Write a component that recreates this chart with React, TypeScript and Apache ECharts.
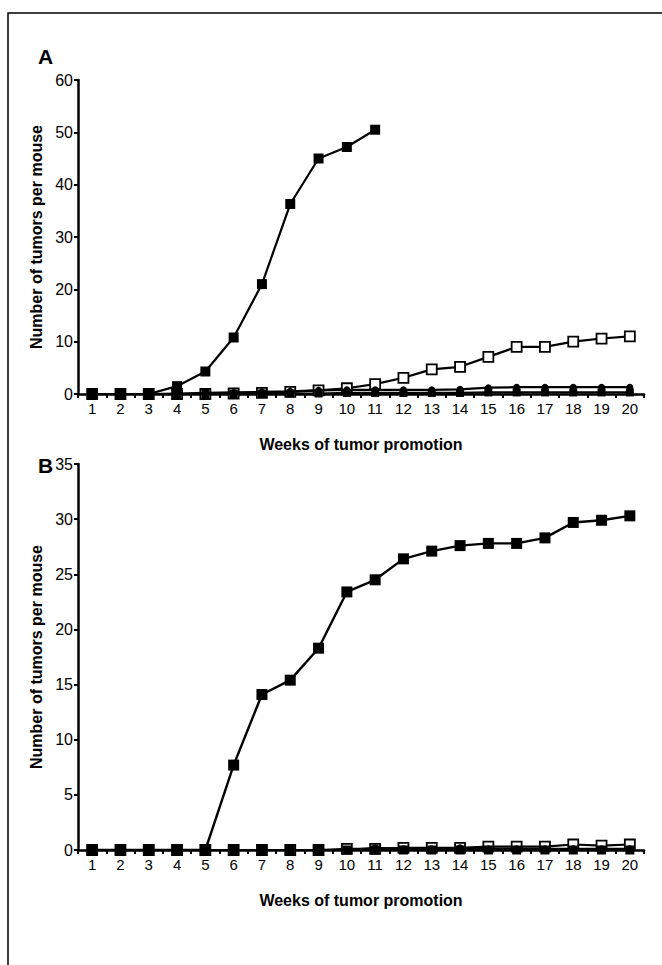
import React, { useEffect, useRef } from "react";
import * as echarts from "echarts";

const weeks = ["1","2","3","4","5","6","7","8","9","10","11","12","13","14","15","16","17","18","19","20"];
const yTicksA = [0, 10, 20, 30, 40, 50, 60];
const yTicksB = [0, 5, 10, 15, 20, 25, 30, 35];

// Panel A
const aFilledSquare = [0, 0, 0, 1.5, 4.3, 10.8, 21, 36.3, 45, 47.2, 50.5];
const aOpenSquare = [0, 0, 0, 0, 0, 0.1, 0.2, 0.4, 0.7, 1.1, 1.9, 3.1, 4.7, 5.2, 7.1, 9, 9, 10, 10.6, 11];
const aCircle = [0, 0, 0, 0.1, 0.2, 0.3, 0.4, 0.5, 0.7, 0.8, 0.8, 0.8, 0.8, 0.9, 1.2, 1.3, 1.3, 1.3, 1.3, 1.3];
const aSmallSquare = [0, 0, 0, 0, 0, 0, 0.1, 0.1, 0.1, 0.2, 0.2, 0.2, 0.2, 0.2, 0.3, 0.3, 0.3, 0.3, 0.3, 0.3];

// Panel B
const bFilledSquare = [0, 0, 0, 0, 0, 7.7, 14.1, 15.4, 18.3, 23.4, 24.5, 26.4, 27.1, 27.6, 27.8, 27.8, 28.3, 29.7, 29.9, 30.3];
const bOpenSquare = [0, 0, 0, 0, 0, 0, 0, 0, 0, 0.1, 0.1, 0.2, 0.2, 0.2, 0.3, 0.3, 0.3, 0.5, 0.4, 0.5];
const bCircle = [0, 0, 0, 0, 0, 0, 0, 0, 0, 0, 0.2, 0.1, 0.1, 0.2, 0.1, 0.1, 0.1, 0.1, 0.1, 0.1];
const bSmallSquare = [0, 0, 0, 0, 0, 0, 0, 0, 0, 0, 0, 0, 0, 0, 0, 0, 0, 0, 0, 0];

const FONT = "Liberation Sans, Arial, Helvetica, sans-serif";

export default function App() {
  const ref = useRef<HTMLDivElement>(null);
  useEffect(() => {
    document.body.style.margin = "0";
    const chart = echarts.init(ref.current!, undefined, { renderer: "svg" });

    const xAxisBase = (gridIndex: number) => ({
      type: "category",
      gridIndex,
      data: weeks,
      boundaryGap: true,
      name: "Weeks of tumor promotion",
      nameLocation: "middle",
      nameGap: 42,
      nameTextStyle: { fontFamily: FONT, fontWeight: "bold", fontSize: 16, color: "#000" },
      axisLine: { lineStyle: { color: "#000", width: 2.5 } },
      axisTick: { show: true, inside: false, length: 4, lineStyle: { color: "#000", width: 2 } },
      axisLabel: { fontFamily: FONT, fontSize: 15, color: "#000", margin: 7, interval: 0 },
      splitLine: { show: false },
    });
    const yAxisBase = (gridIndex: number, ticks: number[]) => ({
      type: "value",
      gridIndex,
      min: ticks[0],
      max: ticks[ticks.length - 1],
      interval: ticks[1] - ticks[0],
      name: "Number of tumors per mouse",
      nameLocation: "middle",
      nameGap: 28,
      nameTextStyle: { fontFamily: FONT, fontWeight: "bold", fontSize: 16, color: "#000" },
      axisLine: { show: true, lineStyle: { color: "#000", width: 2.5 } },
      axisTick: { show: true, inside: false, length: 4, lineStyle: { color: "#000", width: 2 } },
      axisLabel: { fontFamily: FONT, fontSize: 16, color: "#000", margin: 5 },
      splitLine: { show: false },
    });

    const line = (name: string, data: number[], xi: number, symbol: string, size: number, fill: string, z: number, lw = 2.2) => ({
      type: "line",
      name,
      xAxisIndex: xi,
      yAxisIndex: xi,
      data,
      symbol,
      symbolSize: size,
      showAllSymbol: true,
      lineStyle: { color: "#000", width: lw },
      itemStyle: { color: fill, borderColor: "#000", borderWidth: fill === "#fff" ? 1.8 : 0 },
      z,
    });

    chart.setOption({
      animation: false,
      backgroundColor: "#fff",
      grid: [
        { left: 78, top: 80, width: 566, height: 314 },
        { left: 78, top: 464, width: 566, height: 386 },
      ],
      xAxis: [xAxisBase(0), xAxisBase(1)],
      yAxis: [yAxisBase(0, yTicksA), yAxisBase(1, yTicksB)],
      graphic: [
        { type: "rect", shape: { x: 8, y: 13, width: 700, height: 1000 }, style: { fill: "none", stroke: "#000", lineWidth: 1.5 }, silent: true },
        { type: "text", left: 38, top: 46, style: { text: "A", font: `bold 21px ${FONT}`, fill: "#000" } },
        { type: "text", left: 38, top: 455, style: { text: "B", font: `bold 21px ${FONT}`, fill: "#000" } },
      ],
      series: [
        line("A open", aOpenSquare, 0, "rect", 10, "#fff", 2),
        line("A small", aSmallSquare, 0, "rect", 8, "#000", 3),
        line("A circle", aCircle, 0, "circle", 7, "#000", 3),
        line("A filled", aFilledSquare, 0, "rect", 10, "#000", 4),
        line("B open", bOpenSquare, 1, "rect", 10, "#fff", 2),
        line("B small", bSmallSquare, 1, "rect", 9, "#000", 3),
        line("B circle", bCircle, 1, "circle", 7, "#000", 3),
        line("B filled", bFilledSquare, 1, "rect", 11, "#000", 4, 2.4),
      ],
    });
    return () => chart.dispose();
  }, []);
  return <div ref={ref} style={{ width: 662, height: 965 }} />;
}
